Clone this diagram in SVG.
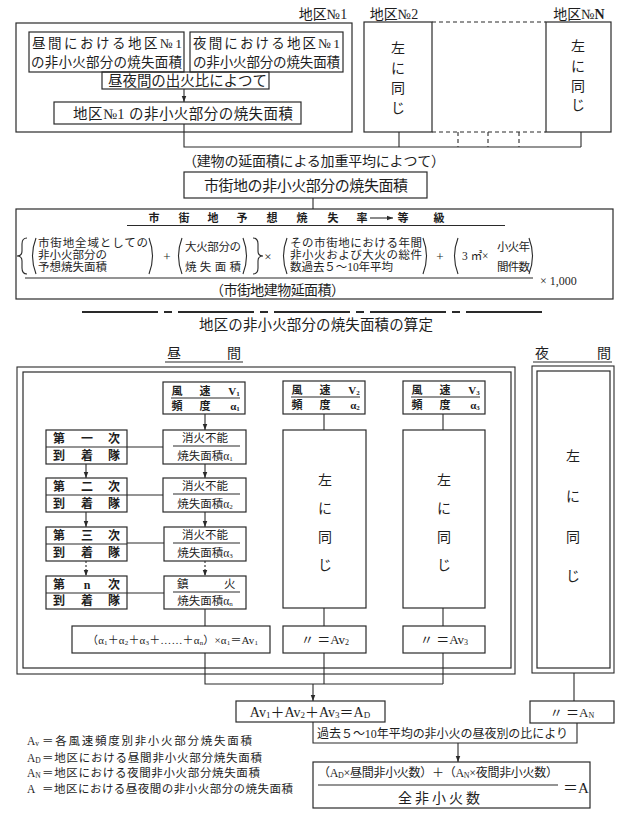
<svg xmlns="http://www.w3.org/2000/svg" width="631" height="820" viewBox="0 0 631 820">
<style>
.b{fill:none;stroke:#2a2a2a;stroke-width:1.2}
.l{fill:none;stroke:#2a2a2a;stroke-width:1.1}
.d{fill:none;stroke:#2a2a2a;stroke-width:1.1;stroke-dasharray:4 3}
.dt{fill:none;stroke:#2a2a2a;stroke-width:1.1;stroke-dasharray:2 2}
.t{font-family:"Liberation Serif","Noto Sans CJK JP","Noto Sans CJK SC",serif;fill:#1e1e1e}
.m{text-anchor:middle}
.bd{font-weight:bold}
</style>
<defs>
<marker id="ar" viewBox="0 0 8 8" refX="8" refY="4" markerWidth="6" markerHeight="6" orient="auto" markerUnits="userSpaceOnUse">
<path d="M0,1 L8,4 L0,7 Z" fill="#2a2a2a"/>
</marker>
</defs>
<rect width="631" height="820" fill="#fff"/>

<g id="connectors">
<line class="l" x1="184" y1="89" x2="184" y2="102" marker-end="url(#ar)"/>
<polyline class="l" points="184,124 184,147 581,147"/>
<line class="l" x1="399" y1="132" x2="399" y2="147"/>
<line class="l" x1="581" y1="132" x2="581" y2="147"/>
<line class="d" x1="458" y1="132" x2="458" y2="147"/>
<line class="d" x1="488" y1="132" x2="488" y2="147"/>
<line class="d" x1="519" y1="132" x2="519" y2="147"/>
<line class="d" x1="432" y1="22" x2="546" y2="22"/>
<line class="d" x1="432" y1="132" x2="546" y2="132"/>
<line class="l" x1="313" y1="198" x2="313" y2="209"/>
<line class="l" x1="205" y1="414" x2="205" y2="430" marker-end="url(#ar)"/>
<line class="l" x1="127" y1="447" x2="163" y2="447"/>
<line class="l" x1="86" y1="464" x2="86" y2="478" marker-end="url(#ar)"/>
<line class="l" x1="205" y1="464" x2="205" y2="478" marker-end="url(#ar)"/>
<line class="l" x1="127" y1="495" x2="163" y2="495"/>
<line class="l" x1="86" y1="512" x2="86" y2="527" marker-end="url(#ar)"/>
<line class="l" x1="205" y1="512" x2="205" y2="527" marker-end="url(#ar)"/>
<line class="l" x1="127" y1="543" x2="164" y2="543"/>
<line class="dt" x1="86" y1="561" x2="86" y2="576" marker-end="url(#ar)"/>
<line class="dt" x1="205" y1="561" x2="205" y2="576" marker-end="url(#ar)"/>
<line class="l" x1="127" y1="593" x2="164" y2="593"/>
<line class="l" x1="205" y1="609" x2="205" y2="626"/>
<polyline class="l" points="205,653 205,684 443,684"/>
<line class="l" x1="324" y1="653" x2="324" y2="684"/>
<line class="l" x1="443" y1="653" x2="443" y2="684"/>
<line class="l" x1="313" y1="684" x2="313" y2="701" marker-end="url(#ar)"/>
<line class="l" x1="324" y1="414" x2="324" y2="430"/>
<line class="l" x1="324" y1="608" x2="324" y2="626"/>
<line class="l" x1="443" y1="414" x2="443" y2="430"/>
<line class="l" x1="443" y1="608" x2="443" y2="626"/>
<line class="l" x1="574" y1="673" x2="574" y2="701"/>
<line class="l" x1="458" y1="743" x2="458" y2="762" marker-end="url(#ar)"/>
</g>

<g id="district1">
<text class="t m" x="323" y="19" font-size="14">地区№1</text>
<rect class="b" x="16" y="23" width="336" height="109"/>
</g>
<g id="day-area1">
<rect class="b" x="29" y="32" width="155" height="40"/>
<text class="t" x="32" y="48" font-size="13.5" textLength="150" lengthAdjust="spacing">昼間における地区№1</text>
<text class="t" x="31" y="67" font-size="13.5" textLength="151" lengthAdjust="spacing">の非小火部分の焼失面積</text>
</g>
<g id="night-area1">
<rect class="b" x="190" y="32" width="153" height="40"/>
<text class="t" x="193" y="48" font-size="13.5" textLength="147" lengthAdjust="spacing">夜間における地区№1</text>
<text class="t" x="193" y="67" font-size="13.5" textLength="147" lengthAdjust="spacing">の非小火部分の焼失面積</text>
</g>
<g id="ratio1">
<rect class="b" x="102" y="72" width="167" height="17"/>
<text class="t" x="108" y="85.5" font-size="14.5" textLength="159" lengthAdjust="spacing">昼夜間の出火比によつて</text>
</g>
<g id="result1">
<rect class="b" x="54" y="102" width="247" height="22"/>
<text class="t" x="73" y="119" font-size="14.5" textLength="220" lengthAdjust="spacing">地区№1 の非小火部分の焼失面積</text>
</g>
<g id="district2">
<text class="t m" x="394" y="19" font-size="14">地区№2</text>
<rect class="b" x="364" y="22" width="68" height="110"/>
<text class="t m" x="398" y="53" font-size="14">左</text>
<text class="t m" x="398" y="73" font-size="14">に</text>
<text class="t m" x="398" y="93" font-size="14">同</text>
<text class="t m" x="398" y="113" font-size="14">じ</text>
</g>
<g id="districtN">
<text class="t m" x="579" y="19" font-size="14">地区№<tspan font-weight="bold">N</tspan></text>
<rect class="b" x="546" y="22" width="65" height="110"/>
<text class="t m" x="578" y="51" font-size="14">左</text>
<text class="t m" x="578" y="71" font-size="14">に</text>
<text class="t m" x="578" y="91" font-size="14">同</text>
<text class="t m" x="578" y="110" font-size="14">じ</text>
</g>
<g id="weighted">
<text class="t" x="183" y="166" font-size="14" textLength="262" lengthAdjust="spacing">（建物の延面積による加重平均によつて）</text>
</g>
<g id="city-area">
<rect class="b" x="184" y="172" width="243" height="26"/>
<text class="t" x="204" y="190.5" font-size="15" textLength="204" lengthAdjust="spacing">市街地の非小火部分の焼失面積</text>
</g>
<g id="formula">
<rect class="b" x="16" y="209" width="597" height="90"/>
<g class="t bd m" font-size="11">
<text x="154" y="222">市</text><text x="184" y="222">街</text><text x="213" y="222">地</text><text x="242" y="222">予</text><text x="272" y="222">想</text><text x="302" y="222">焼</text><text x="333" y="222">失</text><text x="362" y="222">率</text><text x="403" y="222">等</text><text x="439" y="222">級</text>
</g>
<line class="l" x1="370" y1="218" x2="393" y2="218" marker-end="url(#ar)"/>
<line class="l" x1="127" y1="225.5" x2="505" y2="225.5"/>
<path class="l" d="M27,238 Q22,238 22,244 L22,251 Q22,256 17,256 Q22,256 22,261 L22,268 Q22,274 27,274"/>
<path class="l" d="M36,238 Q29,256 36,274"/>
<text class="t" x="38" y="247" font-size="11.5" textLength="110" lengthAdjust="spacing">市街地全域としての</text>
<text class="t" x="38" y="259" font-size="11.5">非小火部分の</text>
<text class="t" x="38" y="271" font-size="11.5">予想焼失面積</text>
<path class="l" d="M149,238 Q156,256 149,274"/>
<text class="t m" x="167" y="260.5" font-size="13">+</text>
<path class="l" d="M182,238 Q175,256 182,274"/>
<text class="t" x="185" y="251" font-size="11.5" textLength="56" lengthAdjust="spacing">大火部分の</text>
<text class="t" x="185" y="271" font-size="11.5" textLength="56" lengthAdjust="spacing">焼失面積</text>
<path class="l" d="M243,238 Q250,256 243,274"/>
<path class="l" d="M253,238 Q258,238 258,244 L258,251 Q258,256 263,256 Q258,256 258,261 L258,268 Q258,274 253,274"/>
<text class="t m" x="268" y="260.5" font-size="13">×</text>
<path class="l" d="M287,238 Q280,256 287,274"/>
<text class="t" x="290" y="247" font-size="11.5" textLength="132" lengthAdjust="spacing">その市街地における年間</text>
<text class="t" x="290" y="259" font-size="11.5" textLength="132" lengthAdjust="spacing">非小火および大火の総件</text>
<text class="t" x="290" y="271" font-size="11.5" textLength="103" lengthAdjust="spacing">数過去５～10年平均</text>
<path class="l" d="M423,238 Q430,256 423,274"/>
<text class="t m" x="440" y="260.5" font-size="13">+</text>
<path class="l" d="M458,238 Q451,256 458,274"/>
<text class="t" x="462" y="260" font-size="11.5">3 ㎡×</text>
<text class="t" x="497" y="251" font-size="11.5" textLength="33" lengthAdjust="spacing">小火年</text>
<text class="t" x="497" y="271" font-size="11.5" textLength="33" lengthAdjust="spacing">間件数</text>
<path class="l" d="M529,238 Q536,256 529,274"/>
<line class="l" x1="25" y1="278" x2="533" y2="278"/>
<text class="t" x="540" y="285" font-size="12">× 1,000</text>
<text class="t" x="210" y="295" font-size="14" textLength="135" lengthAdjust="spacing">（市街地建物延面積）</text>
</g>
<line x1="82" y1="312" x2="547" y2="312" stroke="#2a2a2a" stroke-width="2.2" stroke-dasharray="76 6 8 6"/>
<g id="title">
<text class="t" x="199" y="330" font-size="14.5" textLength="234" lengthAdjust="spacing">地区の非小火部分の焼失面積の算定</text>
</g>
<g id="day-head">
<text class="t m" x="174" y="358" font-size="14">昼</text>
<text class="t m" x="234" y="358" font-size="14">間</text>
<line class="l" x1="165" y1="362" x2="243" y2="362"/>
</g>
<g id="night-head">
<text class="t m" x="542" y="358" font-size="14">夜</text>
<text class="t m" x="604" y="358" font-size="14">間</text>
<line class="l" x1="533" y1="362" x2="612" y2="362"/>
</g>
<g id="day-frame">
<rect class="l" x="17" y="367" width="498" height="307"/>
<rect class="b" x="23" y="372" width="488" height="296" stroke-width="1.5"/>
</g>
<g id="night-frame">
<rect class="l" x="532" y="366" width="82" height="307"/>
<rect class="b" x="537" y="371" width="73" height="297" stroke-width="1.5"/>
<text class="t m" x="573" y="461" font-size="14">左</text>
<text class="t m" x="573" y="501" font-size="14">に</text>
<text class="t m" x="573" y="542" font-size="14">同</text>
<text class="t m" x="573" y="581" font-size="14">じ</text>
</g>
<g id="wind1">
<rect class="b" x="163" y="382" width="82" height="32"/>
<line class="l" x1="171" y1="398" x2="240" y2="398"/>
<g class="t bd m" font-size="11"><text x="177" y="395">風</text><text x="205" y="395">速</text><text x="234" y="395">V<tspan font-size="7" dy="1">1</tspan></text>
<text x="177" y="410">頻</text><text x="205" y="410">度</text><text x="235" y="410">α<tspan font-size="7" dy="1">1</tspan></text></g>
</g>
<g id="wind2">
<rect class="b" x="283" y="381" width="82" height="33"/>
<line class="l" x1="291" y1="397" x2="360" y2="397"/>
<g class="t bd m" font-size="11"><text x="297" y="394">風</text><text x="325" y="394">速</text><text x="354" y="394">V<tspan font-size="7" dy="1">2</tspan></text>
<text x="297" y="409">頻</text><text x="325" y="409">度</text><text x="355" y="409">α<tspan font-size="7" dy="1">2</tspan></text></g>
</g>
<g id="wind3">
<rect class="b" x="403" y="381" width="82" height="33"/>
<line class="l" x1="411" y1="397" x2="480" y2="397"/>
<g class="t bd m" font-size="11"><text x="417" y="394">風</text><text x="445" y="394">速</text><text x="474" y="394">V<tspan font-size="7" dy="1">3</tspan></text>
<text x="417" y="409">頻</text><text x="445" y="409">度</text><text x="475" y="409">α<tspan font-size="7" dy="1">3</tspan></text></g>
</g>
<g id="team1">
<rect class="b" x="46" y="430" width="81" height="34"/>
<line class="l" x1="46" y1="447" x2="127" y2="447"/>
<g class="t bd m" font-size="12"><text x="59" y="443">第</text><text x="87" y="443">一</text><text x="114" y="443">次</text><text x="59" y="460">到</text><text x="87" y="460">着</text><text x="114" y="460">隊</text></g>
</g>
<g id="team2">
<rect class="b" x="46" y="478" width="81" height="34"/>
<line class="l" x1="46" y1="495" x2="127" y2="495"/>
<g class="t bd m" font-size="12"><text x="59" y="491">第</text><text x="87" y="491">二</text><text x="114" y="491">次</text><text x="59" y="508">到</text><text x="87" y="508">着</text><text x="114" y="508">隊</text></g>
</g>
<g id="team3">
<rect class="b" x="46" y="527" width="81" height="34"/>
<line class="l" x1="46" y1="544" x2="127" y2="544"/>
<g class="t bd m" font-size="12"><text x="59" y="540">第</text><text x="87" y="540">三</text><text x="114" y="540">次</text><text x="59" y="557">到</text><text x="87" y="557">着</text><text x="114" y="557">隊</text></g>
</g>
<g id="teamn">
<rect class="b" x="46" y="576" width="81" height="33"/>
<line class="l" x1="46" y1="593" x2="127" y2="593"/>
<g class="t bd m" font-size="12"><text x="59" y="589">第</text><text x="87" y="589">n</text><text x="114" y="589">次</text><text x="59" y="605">到</text><text x="87" y="605">着</text><text x="114" y="605">隊</text></g>
</g>
<g id="loss1">
<rect class="b" x="163" y="430" width="83" height="34"/>
<line class="l" x1="173" y1="446" x2="240" y2="446"/>
<text class="t m" x="205" y="442" font-size="11.5">消火不能</text>
<text class="t m" x="205" y="459.5" font-size="11.5">焼失面積α<tspan font-size="7" dy="1">1</tspan></text>
</g>
<g id="loss2">
<rect class="b" x="163" y="478" width="83" height="34"/>
<line class="l" x1="173" y1="494" x2="240" y2="494"/>
<text class="t m" x="205" y="490" font-size="11.5">消火不能</text>
<text class="t m" x="205" y="507.5" font-size="11.5">焼失面積α<tspan font-size="7" dy="1">2</tspan></text>
</g>
<g id="loss3">
<rect class="b" x="164" y="527" width="82" height="34"/>
<line class="l" x1="173" y1="543" x2="240" y2="543"/>
<text class="t m" x="205" y="539" font-size="11.5">消火不能</text>
<text class="t m" x="205" y="556.5" font-size="11.5">焼失面積α<tspan font-size="7" dy="1">3</tspan></text>
</g>
<g id="lossn">
<rect class="b" x="164" y="576" width="82" height="33"/>
<line class="l" x1="173" y1="592" x2="240" y2="592"/>
<text class="t" x="177" y="588" font-size="11.5">鎮</text>
<text class="t" x="224" y="588" font-size="11.5">火</text>
<text class="t m" x="205" y="605" font-size="11.5">焼失面積α<tspan font-size="7" dy="1">n</tspan></text>
</g>
<g id="sum1">
<rect class="b" x="72" y="626" width="198" height="27"/>
<text class="t" x="87" y="643.5" font-size="11" textLength="171" lengthAdjust="spacing">（α<tspan font-size="7" dy="1">1</tspan><tspan dy="-1">＋α</tspan><tspan font-size="7" dy="1">2</tspan><tspan dy="-1">＋α</tspan><tspan font-size="7" dy="1">3</tspan><tspan dy="-1">＋……＋α</tspan><tspan font-size="7" dy="1">n</tspan><tspan dy="-1">）×α</tspan><tspan font-size="7" dy="1">1</tspan><tspan dy="-1">＝Av</tspan><tspan font-size="7" dy="1">1</tspan></text>
</g>
<g id="same2">
<rect class="b" x="283" y="430" width="83" height="178"/>
<text class="t m" x="325" y="485" font-size="14">左</text>
<text class="t m" x="325" y="513" font-size="14">に</text>
<text class="t m" x="325" y="542" font-size="14">同</text>
<text class="t m" x="325" y="570" font-size="14">じ</text>
</g>
<g id="sum2">
<rect class="b" x="283" y="626" width="83" height="27"/>
<text class="t m" x="325" y="644" font-size="13">〃 ＝Av<tspan font-size="8" dy="1">2</tspan></text>
</g>
<g id="same3">
<rect class="b" x="403" y="430" width="82" height="178"/>
<text class="t m" x="444" y="485" font-size="14">左</text>
<text class="t m" x="444" y="513" font-size="14">に</text>
<text class="t m" x="444" y="542" font-size="14">同</text>
<text class="t m" x="444" y="570" font-size="14">じ</text>
</g>
<g id="sum3">
<rect class="b" x="403" y="626" width="82" height="27"/>
<text class="t m" x="444" y="644" font-size="13">〃 ＝Av<tspan font-size="8" dy="1">3</tspan></text>
</g>
<g id="AD">
<rect class="b" x="236" y="701" width="149" height="21"/>
<text class="t m" x="310" y="716.5" font-size="14">Av<tspan font-size="9" dy="1">1</tspan><tspan dy="-1">＋Av</tspan><tspan font-size="9" dy="1">2</tspan><tspan dy="-1">＋Av</tspan><tspan font-size="9" dy="1">3</tspan><tspan dy="-1">＝A</tspan><tspan font-size="9" dy="1">D</tspan></text>
</g>
<g id="AN">
<rect class="b" x="530" y="701" width="84" height="22"/>
<text class="t m" x="572" y="716.5" font-size="13">〃 ＝A<tspan font-size="8" dy="1">N</tspan></text>
</g>
<g id="ratio-note">
<path class="l" d="M313,722 V743 H577 V723"/>
<text class="t" x="317" y="737.5" font-size="12" textLength="251" lengthAdjust="spacing">過去５～10年平均の非小火の昼夜別の比により</text>
</g>
<g id="final">
<rect class="b" x="313" y="762" width="277" height="46"/>
<text class="t" x="318" y="776.5" font-size="12" textLength="240" lengthAdjust="spacing">（A<tspan font-size="8" dy="1">D</tspan><tspan dy="-1">×昼間非小火数）＋（A</tspan><tspan font-size="8" dy="1">N</tspan><tspan dy="-1">×夜間非小火数）</tspan></text>
<line class="l" x1="318" y1="785" x2="558" y2="785"/>
<text class="t" x="398" y="803" font-size="14" textLength="82" lengthAdjust="spacing">全非小火数</text>
<text class="t" x="563" y="793" font-size="15">＝A</text>
</g>
<g id="legend" class="t" font-size="11.5">
<text x="27" y="745">A<tspan font-size="7.5" dy="1">v</tspan></text><text x="42" y="745" textLength="210" lengthAdjust="spacing">＝各風速頻度別非小火部分焼失面積</text>
<text x="27" y="762">A<tspan font-size="7.5" dy="1">D</tspan></text><text x="42" y="762" textLength="220" lengthAdjust="spacing">＝地区における昼間非小火部分焼失面積</text>
<text x="27" y="777">A<tspan font-size="7.5" dy="1">N</tspan></text><text x="42" y="777" textLength="218" lengthAdjust="spacing">＝地区における夜間非小火部分焼失面積</text>
<text x="27" y="793">A</text><text x="42" y="793" textLength="251" lengthAdjust="spacing">＝地区における昼夜間の非小火部分の焼失面積</text>
</g>
</svg>
